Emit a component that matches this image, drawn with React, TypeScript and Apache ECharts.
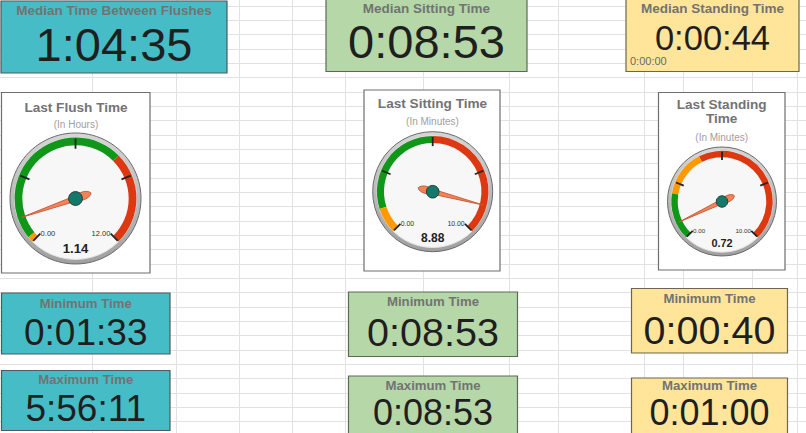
import React, { useEffect, useRef } from 'react';
import * as echarts from 'echarts';

// ---------------- data ----------------
const topTitles = ['Median Time Between Flushes', 'Median Sitting Time', 'Median Standing Time'];
const medianTimes = ['1:04:35', '0:08:53', '0:00:44'];
const minTimes = ['0:01:33', '0:08:53', '0:00:40'];
const maxTimes = ['5:56:11', '0:08:53', '0:01:00'];
const minLabel = 'Minimum Time';
const maxLabel = 'Maximum Time';
const standingNote = '0:00:00';
const gaugeTitles = ['Last Flush Time', 'Last Sitting Time', 'Last Standing\nTime'];
const gaugeUnits = ['(In Hours)', '(In Minutes)', '(In Minutes)'];
const gaugeValues = [1.14, 8.88, 0.72];
const gaugeMins = [0, 0, 0];
const gaugeMaxes = [12, 10, 10];
const bandLimits = [
  [0.25, 8, 12],
  [1, 5, 10],
  [2, 4, 10],
];
const bandColors = [
  ['#ff9900', '#109618', '#dc3912'],
  ['#ff9900', '#109618', '#dc3912'],
  ['#109618', '#ff9900', '#dc3912'],
];

// ---------------- layout ----------------
const FONT = 'Arial, "Liberation Sans", Helvetica, sans-serif';
const W = 806;
const H = 433;
const gridCols = [92, 176, 239, 292, 345, 423, 509, 558, 644, 683, 752, 797];
const rowStart = 5.7;
const rowH = 14.33;

const layout = [
  {
    fill: '#46bdc6', stroke: '#4b5a5a',
    top: { x: 1, y: 1, w: 226, h: 72, titleY: 10.5, valueY: 44, size: 47 },
    gbox: { x: 1.5, y: 92.5, w: 148.5, h: 180.5 }, cx: 75.5, cy: 198.5, r: 65.5, titleX: 76, titleY: 107, unitY: 124.5,
    min: { x: 1.5, y: 293, w: 168.5, h: 61, labelY: 303, valueY: 332, size: 37 },
    max: { x: 1.5, y: 370.5, w: 168.5, h: 60, labelY: 379.5, valueY: 408.8, size: 37 },
  },
  {
    fill: '#b6d7a8', stroke: '#5c6b56',
    top: { x: 326, y: -1, w: 201, h: 72.5, titleY: 8.7, valueY: 41.3, size: 47 },
    gbox: { x: 364, y: 90, w: 136, h: 181 }, cx: 432.7, cy: 191.7, r: 60, titleX: 432.5, titleY: 103.5, unitY: 121.5,
    min: { x: 348.5, y: 292, w: 169, h: 64.5, labelY: 301.4, valueY: 332, size: 39.5 },
    max: { x: 348.5, y: 376, w: 169, h: 70, labelY: 385.8, valueY: 412.6, size: 36 },
  },
  {
    fill: '#ffe599', stroke: '#6b6552',
    top: { x: 626, y: -1, w: 173, h: 72.5, titleY: 8.7, valueY: 38.3, size: 34.5 },
    gbox: { x: 658.5, y: 92.5, w: 126.5, h: 177.5 }, cx: 722, cy: 201.5, r: 54.5, titleX: 721.7, titleY: 111.7, unitY: 137.2,
    min: { x: 631.5, y: 288.5, w: 156, h: 64.5, labelY: 298.7, valueY: 329.6, size: 39.5 },
    max: { x: 631.5, y: 378, w: 156, h: 70, labelY: 385.8, valueY: 412.3, size: 36 },
  },
];

const NEEDLE = 'path://M5,0 L8,78 C9.5,84 10,90 8.5,95 Q6.5,100 5,100 Q3.5,100 1.5,95 C0,90 0.5,84 2,78 Z';

function buildOption() {
  const graphics: any[] = [];
  // spreadsheet grid
  gridCols.forEach((x) => {
    graphics.push({ type: 'line', z: 0, silent: true, shape: { x1: x + 0.5, y1: 0, x2: x + 0.5, y2: H }, style: { stroke: '#e2e2e2', lineWidth: 1 } });
  });
  for (let y = rowStart; y < H; y += rowH) {
    const yy = Math.round(y) + 0.5;
    graphics.push({ type: 'line', z: 0, silent: true, shape: { x1: 0, y1: yy, x2: W, y2: yy }, style: { stroke: '#e2e2e2', lineWidth: 1 } });
  }

  const titleColor = '#737373';
  const valueColor = '#1f1f1f';

  const box = (b: any, fill: string, stroke: string) => ({
    type: 'rect', z: 1, shape: { x: b.x, y: b.y, width: b.w, height: b.h }, style: { fill, stroke, lineWidth: 1.2 },
  });
  const txt = (text: string, x: number, y: number, size: number, color: string, weight = 'normal', align = 'center', lh?: number) => ({
    type: 'text', z: 4, silent: true,
    style: {
      text, x, y, fill: color, align, verticalAlign: 'middle',
      fontFamily: FONT, fontSize: size, fontWeight: weight, lineHeight: lh || size,
    },
  });

  layout.forEach((c, i) => {
    const cxBox = (b: any) => b.x + b.w / 2;
    // top box
    graphics.push(box(c.top, c.fill, c.stroke));
    graphics.push(txt(topTitles[i], cxBox(c.top), c.top.titleY, 13.5, titleColor, 'bold'));
    graphics.push(txt(medianTimes[i], cxBox(c.top), c.top.valueY, c.top.size, valueColor, 'normal', 'center', c.top.size * 0.8));
    // min box
    graphics.push(box(c.min, c.fill, c.stroke));
    graphics.push(txt(minLabel, cxBox(c.min), c.min.labelY, 13.2, titleColor, 'bold'));
    graphics.push(txt(minTimes[i], cxBox(c.min), c.min.valueY, c.min.size, valueColor, 'normal', 'center', c.min.size * 0.8));
    // max box
    graphics.push(box(c.max, c.fill, c.stroke));
    graphics.push(txt(maxLabel, cxBox(c.max), c.max.labelY, 13.2, titleColor, 'bold'));
    graphics.push(txt(maxTimes[i], cxBox(c.max), c.max.valueY, c.max.size, valueColor, 'normal', 'center', c.max.size * 0.8));
    // gauge box
    graphics.push({ type: 'rect', z: 1, shape: { x: c.gbox.x, y: c.gbox.y, width: c.gbox.w, height: c.gbox.h }, style: { fill: '#ffffff', stroke: '#6e6e6e', lineWidth: 1.2 } });
    graphics.push(txt(gaugeTitles[i], c.titleX, c.titleY, 13.6, titleColor, 'bold', 'center', 14.4));
    graphics.push(txt(gaugeUnits[i], c.titleX, c.unitY, 10, '#a0a0a0'));
    // bezel
    graphics.push({
      type: 'circle', z: 2, silent: true, shape: { cx: c.cx, cy: c.cy, r: c.r },
      style: {
        fill: new echarts.graphic.LinearGradient(0, 0, 0, 1, [
          { offset: 0, color: '#d6d6d6' },
          { offset: 1, color: '#a0a0a0' },
        ]),
        stroke: '#6a6a6a', lineWidth: 1,
      },
    });
    graphics.push({
      type: 'circle', z: 3, silent: true, shape: { cx: c.cx, cy: c.cy, r: c.r * 0.93 },
      style: { fill: '#f7f7f7', stroke: '#e4e4e4', lineWidth: 1 },
    });
  });
  // small note in the yellow box
  graphics.push(txt(standingNote, 630, 61.3, 11, '#6a6a6a', 'normal', 'left'));

  const series = layout.map((c, i) => {
    const r = c.r;
    const R = r * 0.93;
    const bw = r * 0.118;
    const min = gaugeMins[i];
    const max = gaugeMaxes[i];
    const stops = bandLimits[i].map((lim, j) => [(lim - min) / (max - min), bandColors[i][j]]);
    return {
      type: 'gauge',
      z: 10,
      center: [c.cx, c.cy],
      radius: R,
      startAngle: 225,
      endAngle: -45,
      min,
      max,
      splitNumber: 4,
      axisLine: { lineStyle: { width: bw, color: stops } },
      axisTick: { show: false },
      splitLine: { length: r * 0.153, distance: -r * 0.101, lineStyle: { color: '#222', width: 1.8 } },
      axisLabel: {
        distance: r * 0.125,
        color: '#333',
        fontSize: Math.max(6, r * 0.115),
        fontFamily: FONT,
        formatter: (v: number) => (Math.abs(v - min) < 1e-9 || Math.abs(v - max) < 1e-9 ? v.toFixed(2) : ''),
      },
      pointer: {
        icon: NEEDLE,
        length: r * 1.13,
        width: r * 0.12,
        offsetCenter: [0, r * 0.25],
        itemStyle: { color: '#f2835a', borderColor: '#c4532d', borderWidth: 0.8 },
      },
      anchor: {
        show: true, showAbove: true, size: r * 0.21,
        itemStyle: { color: '#137a6b', borderColor: '#2a3a38', borderWidth: 1 },
      },
      title: { show: false },
      detail: {
        valueAnimation: false,
        offsetCenter: [0, r * 0.77],
        fontSize: r * 0.2,
        fontWeight: 'bold',
        fontFamily: FONT,
        color: '#222',
        formatter: (v: number) => v.toFixed(2),
      },
      data: [{ value: gaugeValues[i] }],
    };
  });

  return {
    animation: false,
    backgroundColor: '#ffffff',
    graphic: { elements: graphics },
    series,
  };
}

export default function App() {
  const ref = useRef<HTMLDivElement>(null);
  useEffect(() => {
    if (!ref.current) return;
    const chart = echarts.init(ref.current, undefined, { renderer: 'svg' });
    chart.setOption(buildOption() as any);
    return () => chart.dispose();
  }, []);
  return <div ref={ref} style={{ position: 'absolute', left: 0, top: 0, width: W, height: H }} />;
}
